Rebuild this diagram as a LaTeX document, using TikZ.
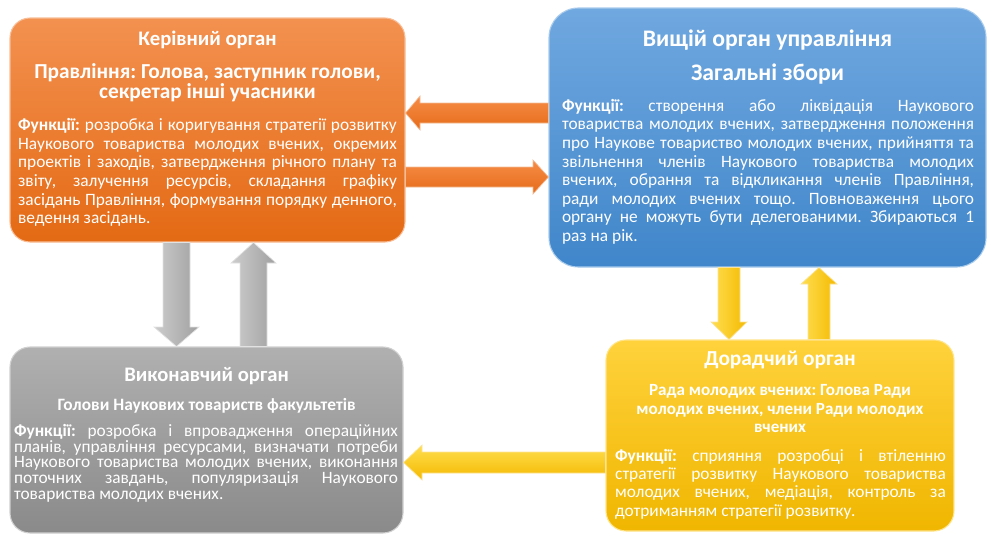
\documentclass[tikz,border=0pt]{standalone}
\usepackage{fontspec}
\setmainfont{Carlito}
\usetikzlibrary{calc}
\frenchspacing
\definecolor{orT}{RGB}{243,145,80}
\definecolor{orB}{RGB}{228,106,20}
\definecolor{blT}{RGB}{112,168,224}
\definecolor{blB}{RGB}{64,134,202}
\definecolor{grT}{RGB}{176,176,176}
\definecolor{grB}{RGB}{138,138,138}
\definecolor{yeT}{RGB}{255,210,60}
\definecolor{yeB}{RGB}{240,182,0}
\definecolor{arOT}{RGB}{246,140,70}
\definecolor{arOB}{RGB}{230,108,26}
\definecolor{arGL}{RGB}{205,205,205}
\definecolor{arGR}{RGB}{160,160,160}
\definecolor{arYL}{RGB}{255,222,80}
\definecolor{arYR}{RGB}{244,186,0}
\begin{document}
\begin{tikzpicture}[x=0.75pt,y=-0.75pt,
  box/.style={rounded corners=15pt, inner sep=0pt, line width=0.8pt},
  ttl/.style={font=\bfseries\fontsize{15.5}{17}\selectfont, text=white, anchor=north, inner sep=0pt, align=center},
  body/.style={text=white, anchor=north, inner sep=0pt, align=justify},
  harr/.style={draw=white!55!arOB, line width=0.5pt, top color=arOT, bottom color=arOB},
  garr/.style={draw=white!70!arGR, line width=0.5pt, left color=arGL, right color=arGR},
  yvarr/.style={draw=white!60!arYR, line width=0.5pt, left color=arYL, right color=arYR},
  yharr/.style={draw=white!60!arYR, line width=0.5pt, top color=arYL, bottom color=arYR}]
\useasboundingbox (0,0) rectangle (992,540);
% boxes
\node[box, minimum width=296.25pt, minimum height=168pt, top color=orT, bottom color=orB, draw=orT!60!white] (orange) at (207.5,130) {};
\node[box, rounded corners=22pt, minimum width=327.75pt, minimum height=194.25pt, top color=blT, bottom color=blB, draw=blT!60!white] (blue) at (767.5,137.5) {};
\node[box, minimum width=294.75pt, minimum height=139.5pt, top color=grT, bottom color=grB, draw=grT!60!white] (gray) at (206.5,440) {};
\node[box, minimum width=261pt, minimum height=143.25pt, top color=yeT, bottom color=yeB, draw=yeT!60!white] (yellow) at (780,435.5) {};
% arrows
\path[harr] (blue.west |- 0,103) -- (420,103) -- (420,96) -- (orange.east |- 0,113) -- (420,130) -- (420,123) -- (blue.west |- 0,123) -- cycle;
\path[harr] (orange.east |- 0,167) -- (533,167) -- (533,160) -- (blue.west |- 0,177) -- (533,194) -- (533,187) -- (orange.east |- 0,187) -- cycle;
\path[garr] (163,0 |- orange.south) -- (163,327) -- (154,327) -- (176.5,0 |- gray.north) -- (199,327) -- (190,327) -- (190,0 |- orange.south) -- cycle;
\path[garr] (240,0 |- gray.north) -- (240,263) -- (231,263) -- (253.5,0 |- orange.south) -- (276,263) -- (267,263) -- (267,0 |- gray.north) -- cycle;
\path[yvarr] (718,0 |- blue.south) -- (718,322) -- (711,322) -- (729,0 |- yellow.north) -- (747,322) -- (740,322) -- (740,0 |- blue.south) -- cycle;
\path[yvarr] (808,0 |- yellow.north) -- (808,284) -- (801,284) -- (819,0 |- blue.south) -- (837,284) -- (830,284) -- (830,0 |- yellow.north) -- cycle;
\path[yharr] (yellow.west |- 0,452) -- (422,452) -- (422,445) -- (gray.east |- 0,462.5) -- (422,480) -- (422,473) -- (yellow.west |- 0,473) -- cycle;
% orange texts
\node[ttl] (o1) at (207.5,31) {Керівний орган};
\node[ttl, font=\bfseries\fontsize{16}{15}\selectfont] (o2) at (207.5,63) {Правління: Голова, заступник голови,\\секретар інші учасники};
\node[body, text width=284pt, font=\fontsize{13}{14}\selectfont] (o3) at (207.5,118) {\hyphenpenalty=10000 \textbf{Функції:} розробка і коригування стратегії розвитку \linebreak Наукового товариства молодих вчених, окремих \linebreak проектів і заходів, затвердження річного плану та \linebreak звіту, залучення ресурсів, складання графіку \linebreak засідань Правління, формування порядку денного, \linebreak ведення засідань.};
% blue texts
\node[ttl, font=\bfseries\fontsize{17.8}{19}\selectfont] (b1) at (767.5,30) {Вищій орган управління};
\node[ttl, font=\bfseries\fontsize{17.8}{19}\selectfont] (b2) at (767.5,64) {Загальні збори};
\node[body, text width=309pt, font=\fontsize{13}{13.9}\selectfont] (b3) at (768,99) {\hyphenpenalty=10000 \textbf{Функції:} створення або ліквідація Наукового \linebreak товариства молодих вчених, затвердження положення \linebreak про Наукове товариство молодих вчених, прийняття та \linebreak звільнення членів Наукового товариства молодих \linebreak вчених, обрання та відкликання членів Правління, \linebreak ради молодих вчених тощо. Повноваження цього \linebreak органу не можуть бути делегованими. Збираються 1 \linebreak раз на рік.};
% gray texts
\node[ttl] (g1) at (206.5,367) {Виконавчий орган};
\node[ttl, font=\bfseries\fontsize{13}{14}\selectfont] (g2) at (206.5,398) {Голови Наукових товариств факультетів};
\node[body, text width=288pt, font=\fontsize{13}{11.8}\selectfont] (g3) at (206,424) {\hyphenpenalty=10000 \textbf{Функції:} розробка і впровадження операційних \linebreak планів, управління ресурсами, визначати потреби \linebreak Наукового товариства молодих вчених, виконання \linebreak поточних завдань, популяризація Наукового \linebreak товариства молодих вчених.};
% yellow texts
\node[ttl, font=\bfseries\fontsize{16}{17}\selectfont] (y1) at (780,351) {Дорадчий орган};
\node[ttl, font=\bfseries\fontsize{12.8}{14}\selectfont] (y2) at (780,384) {Рада молодих вчених: Голова Ради\\молодих вчених, члени Ради молодих\\вчених};
\node[body, text width=248pt, font=\fontsize{13}{13.7}\selectfont] (y3) at (780.5,449) {\hyphenpenalty=10000 \textbf{Функції:} сприяння розробці і втіленню \linebreak стратегії розвитку Наукового товариства \linebreak молодих вчених, медіація, контроль за \linebreak дотриманням стратегії розвитку.};
\end{tikzpicture}
\end{document}
